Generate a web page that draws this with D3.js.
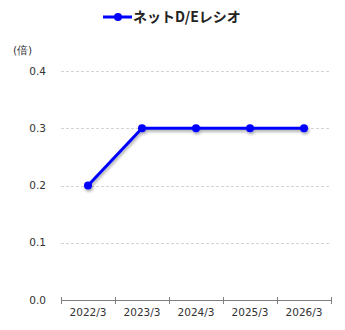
<!DOCTYPE html>
<html>
<head>
<meta charset="utf-8">
<script src="https://cdn.jsdelivr.net/npm/d3@7"></script>
<style>
  body { margin: 0; background: #fff; }
  svg { display: block; }
</style>
</head>
<body>
<svg id="chart" width="345" height="330"></svg>
<script>
// data
const years = ['2022/3', '2023/3', '2024/3', '2025/3', '2026/3'];
const ratios = [0.2, 0.3, 0.3, 0.3, 0.3];
const yTicks = [0.0, 0.1, 0.2, 0.3, 0.4];
const seriesName = 'ネットD/Eレシオ';
const unitLabel = '(倍)';

const svg = d3.select('#chart');
const font = '"DejaVu Sans", Verdana, sans-serif';
const plotLeft = 61, plotRight = 331, plotTop = 71, plotBottom = 300;

const x = d3.scaleBand().domain(years).range([plotLeft, plotRight]);
const y = d3.scaleLinear().domain([0, 0.4]).range([plotBottom, plotTop]);

// drop shadow under the line
const defs = svg.append('defs');
const f = defs.append('filter').attr('id', 'shadow')
  .attr('x', '-10%').attr('y', '-10%').attr('width', '120%').attr('height', '130%');
f.append('feGaussianBlur').attr('in', 'SourceAlpha').attr('stdDeviation', 1.5);
f.append('feOffset').attr('dx', 1).attr('dy', 2).attr('result', 'b');
f.append('feComponentTransfer').append('feFuncA').attr('type', 'linear').attr('slope', 0.35);
const m = f.append('feMerge');
m.append('feMergeNode');
m.append('feMergeNode').attr('in', 'SourceGraphic');

// gridlines (skip 0)
svg.append('g').selectAll('line')
  .data(yTicks.filter(d => d > 0))
  .enter().append('line')
  .attr('x1', plotLeft).attr('x2', plotRight - 1)
  .attr('y1', d => Math.round(y(d)) + 0.5).attr('y2', d => Math.round(y(d)) + 0.5)
  .attr('stroke', '#d4d4d4')
  .attr('stroke-dasharray', '3,2');

// y labels
svg.append('g').selectAll('text')
  .data(yTicks)
  .enter().append('text')
  .attr('x', 46)
  .attr('y', d => y(d))
  .attr('dy', '0.35em')
  .attr('text-anchor', 'end')
  .attr('font-family', font)
  .attr('font-size', '10.5px')
  .attr('fill', '#333')
  .text(d => d.toFixed(1));

svg.append('text')
  .attr('x', 13).attr('y', 54)
  .attr('font-family', font)
  .attr('font-size', '10.5px')
  .attr('fill', '#333')
  .text(unitLabel);

// x axis
const xAxis = svg.append('g')
  .attr('transform', `translate(0,${plotBottom + 0.5})`);
xAxis.append('line')
  .attr('x1', plotLeft).attr('x2', plotRight)
  .attr('stroke', '#808080');
const edges = years.map(d => x(d)).concat([plotRight]);
xAxis.selectAll('.tick')
  .data(edges)
  .enter().append('line')
  .attr('x1', d => Math.round(d) + 0.5).attr('x2', d => Math.round(d) + 0.5)
  .attr('y1', -3.5).attr('y2', 3.5)
  .attr('stroke', '#808080');
xAxis.selectAll('text')
  .data(years)
  .enter().append('text')
  .attr('x', d => x(d) + x.bandwidth() / 2)
  .attr('y', 12)
  .attr('dy', '0.35em')
  .attr('text-anchor', 'middle')
  .attr('font-family', font)
  .attr('font-size', '10.5px')
  .attr('fill', '#333')
  .text(d => d);

// series
const pts = years.map((d, i) => ({ year: d, v: ratios[i] }));
const g = svg.append('g').attr('filter', 'url(#shadow)');
g.append('path')
  .datum(pts)
  .attr('fill', 'none')
  .attr('stroke', '#0000ff')
  .attr('stroke-width', 3)
  .attr('stroke-linejoin', 'round')
  .attr('d', d3.line().x(d => x(d.year) + x.bandwidth() / 2).y(d => y(d.v)));
g.selectAll('circle')
  .data(pts)
  .enter().append('circle')
  .attr('cx', d => x(d.year) + x.bandwidth() / 2)
  .attr('cy', d => y(d.v))
  .attr('r', 4)
  .attr('fill', '#0000ff');

// legend
const lg = svg.append('g').attr('transform', 'translate(103,17)');
lg.append('line').attr('x1', 0).attr('x2', 29)
  .attr('stroke', '#0000ff').attr('stroke-width', 3);
lg.append('circle').attr('cx', 15).attr('r', 4).attr('fill', '#0000ff');
lg.append('text')
  .attr('x', 30).attr('dy', '0.35em')
  .attr('font-family', '"Noto Sans CJK JP", sans-serif')
  .attr('font-size', '14px')
  .attr('font-weight', 'bold')
  .attr('fill', '#222')
  .text(seriesName);
</script>
</body>
</html>
